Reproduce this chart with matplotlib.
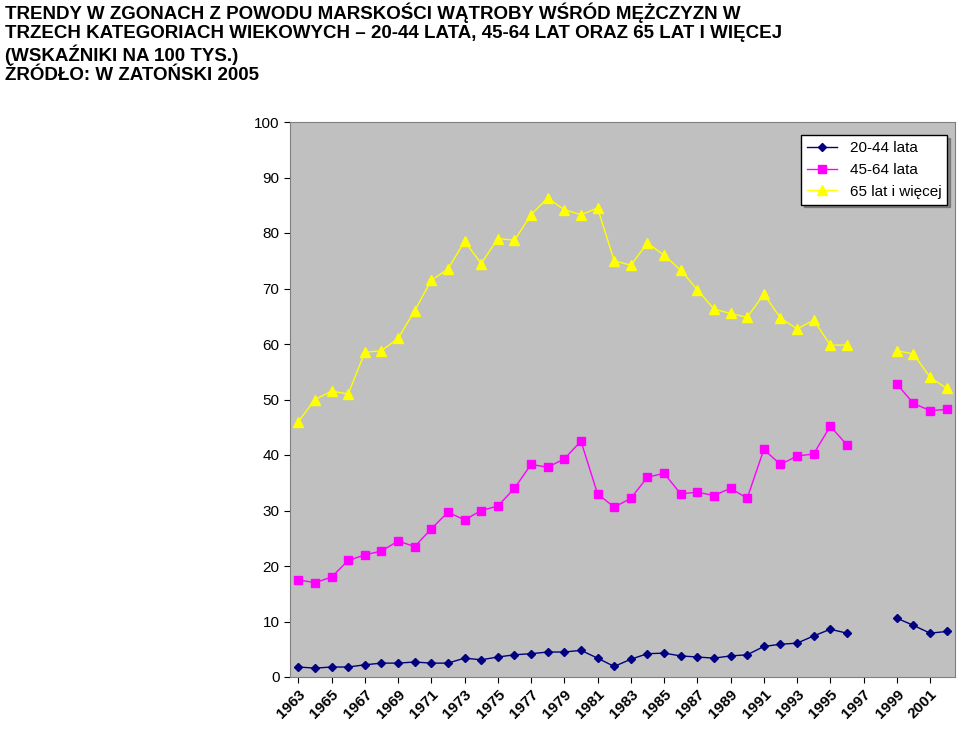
import numpy as np
import matplotlib
matplotlib.use("Agg")
import matplotlib.pyplot as plt

plt.rcParams["font.family"] = "Liberation Sans"

years = list(range(1963, 2003))
m20 = [1.8,1.6,1.8,1.8,2.2,2.5,2.5,2.7,2.5,2.5,3.4,3.1,3.6,4,4.2,4.5,4.5,4.8,3.4,1.9,3.2,4.2,4.3,3.8,3.6,3.4,3.8,4,5.5,5.9,6.1,7.4,8.6,7.9,
       None,None,10.6,9.3,7.9,8.2]
m45 = [17.5,17,18,21,22,22.7,24.5,23.5,26.7,29.7,28.3,30,30.8,34,38.3,37.8,39.3,42.5,33,30.6,32.2,36,36.7,33,33.3,32.7,34,32.2,41,38.3,39.8,40.2,45.2,41.8,
       None,None,52.8,49.3,48,48.2]
m65 = [46,50,51.5,51,58.5,58.8,61,66,71.5,73.5,78.5,74.5,79,78.7,83.3,86.3,84.2,83.3,84.5,75,74.2,78.2,76,73.3,69.8,66.3,65.5,64.8,69,64.7,62.7,64.3,59.8,59.8,
       None,None,58.8,58.2,54,52]
labels = ["20-44 lata", "45-64 lata", "65 lat i więcej"]
tick_years = list(range(1963, 2003, 2))

def arr(v):
    return np.array([np.nan if x is None else x for x in v], dtype=float)

fig = plt.figure(figsize=(9.59, 7.29), dpi=100)
ax = fig.add_axes([290/959, 1-677/729, 665/959, 555/729])
ax.set_facecolor("#C0C0C0")
x = np.arange(len(years))
ax.plot(x, arr(m20), color="#000080", marker="D", ms=4.5, lw=1, label=labels[0])
ax.plot(x, arr(m45), color="#FF00FF", marker="s", ms=5.5, lw=1, label=labels[1])
ax.plot(x, arr(m65), color="#FFFF00", marker="^", ms=6.5, lw=1, label=labels[2])
ax.set_xlim(-0.5, len(years)-0.5)
ax.set_ylim(0, 100)
ax.set_yticks(range(0, 101, 10))
ax.set_xticks([years.index(y) for y in tick_years])
ax.set_xticklabels([str(y) for y in tick_years], rotation=45, ha="right", rotation_mode="anchor",
                   fontweight="bold", fontsize=11)
ax.tick_params(axis="y", labelsize=11, length=4)
ax.tick_params(axis="x", length=4)
for s in ax.spines.values():
    s.set_color("#808080")
leg = ax.legend(loc="upper right", fontsize=11, frameon=True, fancybox=False, shadow=True,
                edgecolor="black", framealpha=1, bbox_to_anchor=(1.0, 0.99))
leg.get_frame().set_facecolor("white")
fig.text(0.005, 0.997, "TRENDY W ZGONACH Z POWODU MARSKOŚCI WĄTROBY WŚRÓD MĘŻCZYZN W\n"
         "TRZECH KATEGORIACH WIEKOWYCH – 20-44 LATA, 45-64 LAT ORAZ 65 LAT I WIĘCEJ\n"
         "(WSKAŹNIKI NA 100 TYS.)\nŹRÓDŁO: W ZATOŃSKI 2005",
         ha="left", va="top", fontsize=13.5, fontweight="bold", linespacing=1.15)
fig.savefig("out.png", dpi=100)
